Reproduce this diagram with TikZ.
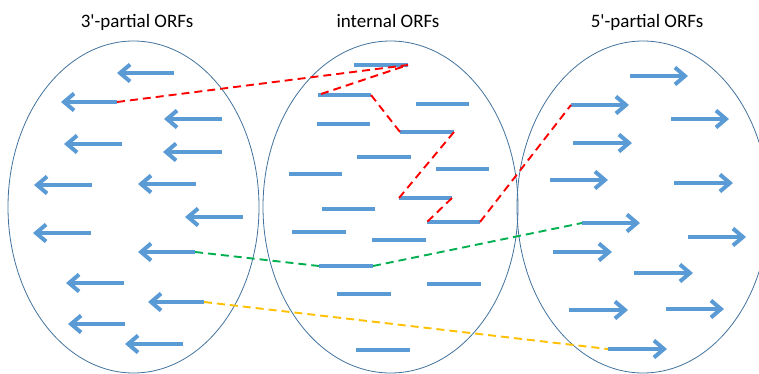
\documentclass[tikz,border=0pt]{standalone}
\usepackage{fontspec}
\newfontfamily\titlefont{Carlito}
\usetikzlibrary{arrows.meta}
\definecolor{orfblue}{HTML}{5B9BD5}
\definecolor{setline}{HTML}{41719C}
\definecolor{linkred}{HTML}{FF0000}
\definecolor{linkgreen}{HTML}{00B050}
\definecolor{linkyellow}{HTML}{FFC000}
\tikzset{
  orfset/.style={draw=setline, line width=0.8pt},
  orfbar/.style={draw=orfblue, line width=4pt},
  orfarrow/.style={orfbar, -{Straight Barb[length=10pt,width=17pt]}},
  settitle/.style={anchor=base, font=\titlefont\fontsize{19}{22}\selectfont, text=black},
  link/.style={line width=1.9pt, dash pattern=on 8pt off 5pt},
}
\begin{document}
\begin{tikzpicture}[x=1pt,y=-1pt]
\useasboundingbox (0,0) rectangle (759,374);
\begin{scope}
\clip (0,0) rectangle (759,374);
% the three sets
\draw[orfset] (133.5,207) ellipse [x radius=125.5, y radius=166];
\draw[orfset] (390.5,207) ellipse [x radius=127.5, y radius=166];
\draw[orfset] (643,207) ellipse [x radius=126, y radius=166];
\end{scope}

% titles
\node[settitle] (t3) at (137,28) {3'-partial ORFs};
\node[settitle] (ti) at (388,28) {internal ORFs};
\node[settitle] (t5) at (647,28) {5'-partial ORFs};

% 3'-partial ORFs: arrows pointing left, tail -> head
\foreach \n/\xt/\xh/\y in {1/174/117/73, 2/117/61/102, 3/222/164/119, 4/122/64/144,
    5/222/163/152, 6/92/34/185, 7/196/138/184, 8/243/185/217, 9/91/33/233,
    10/195/138/252, 11/124/66/283, 12/204/148/302, 13/125/68/324, 14/183/125/344}{
  \coordinate (L\n t) at (\xt,\y);
  \coordinate (L\n h) at (\xh,\y);
  \draw[orfarrow] (L\n t) -- (L\n h);
}

% internal ORFs: plain bars, left end -> right end
\foreach \n/\xa/\xb/\y in {1/354/408/65, 2/318/371/95, 3/416/469/104, 4/317/370/124,
    5/400/454/132, 6/357/411/157, 7/289/342/174, 8/436/489/169, 9/399/452/198,
    10/322/375/209, 11/427/480/222, 12/292/346/232, 13/372/426/240, 14/319/373/266,
    15/427/481/284, 16/337/391/294, 17/356/410/350}{
  \coordinate (M\n a) at (\xa,\y);
  \coordinate (M\n b) at (\xb,\y);
  \draw[orfbar] (M\n a) -- (M\n b);
}

% 5'-partial ORFs: arrows pointing right, tail -> head
\foreach \n/\xt/\xh/\y in {1/630/688/76, 2/571/629/105, 3/671/729/119, 4/573/632/143,
    5/550/608/180, 6/674/733/183, 7/582/640/223, 8/688/746/237, 9/553/612/252,
    10/634/693/273, 11/569/628/310, 12/666/724/309, 13/608/667/349}{
  \coordinate (R\n t) at (\xt,\y);
  \coordinate (R\n h) at (\xh,\y);
  \draw[orfarrow] (R\n t) -- (R\n h);
}

% assembled chains
\draw[link, linkred] (L2t) -- (M1b) -- (M2a);
\draw[link, linkred] (M2b) -- (M5a);
\draw[link, linkred] (M5b) -- (M9a);
\draw[link, linkred] (M9b) -- (M11a);
\draw[link, linkred] (M11b) -- (R2t);
\draw[link, linkgreen] (L10t) -- (M14a);
\draw[link, linkgreen] (M14b) -- (R7t);
\draw[link, linkyellow] (L12t) -- (R13t);
\end{tikzpicture}
\end{document}
